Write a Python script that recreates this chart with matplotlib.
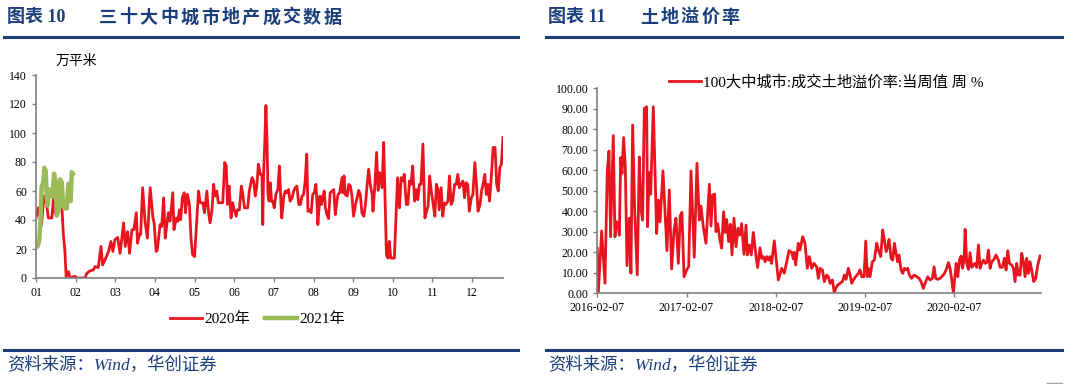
import matplotlib
matplotlib.use('Agg')
import matplotlib.pyplot as plt
import numpy as np

plt.rcParams['font.family'] = ['Liberation Serif', 'Noto Sans CJK SC']
plt.rcParams['axes.unicode_minus'] = False

# ---- left chart: 30 city floor area sold (万平米), x in months since 01-01
months = ['01', '02', '03', '04', '05', '06', '07', '08', '09', '10', '11', '12']

x_2020 = [0.00, 0.06, 0.14, 0.20, 0.27, 0.31, 0.40, 0.44, 0.48, 0.52, 0.61, 0.65, 0.69, 0.73, 0.76,
          0.82, 0.86, 0.98, 1.03, 1.24, 1.28, 1.36, 1.45, 1.49, 1.57, 1.64, 1.68, 1.74, 1.83, 1.89,
          1.94, 1.99, 2.06, 2.12, 2.21, 2.25, 2.31, 2.36, 2.42, 2.47, 2.53, 2.56, 2.61, 2.64, 2.69,
          2.75, 2.81, 2.88, 2.95, 2.98, 3.03, 3.06, 3.13, 3.17, 3.22, 3.26, 3.30, 3.34, 3.38, 3.45,
          3.48, 3.54, 3.58, 3.62, 3.65, 3.69, 3.74, 3.77, 3.82, 3.87, 3.91, 3.95, 4.00, 4.06, 4.10,
          4.14, 4.21, 4.25, 4.31, 4.35, 4.39, 4.44, 4.48, 4.52, 4.56, 4.60, 4.66, 4.71, 4.76, 4.80,
          4.83, 4.87, 4.92, 4.96, 5.00, 5.05, 5.08, 5.13, 5.18, 5.21, 5.26, 5.29, 5.34, 5.38, 5.45,
          5.49, 5.53, 5.57, 5.61, 5.66, 5.70, 5.72, 5.74, 5.77, 5.80, 5.83, 5.85, 5.88, 5.91, 5.94,
          5.97, 6.01, 6.05, 6.10, 6.14, 6.18, 6.20, 6.25, 6.29, 6.33, 6.37, 6.41, 6.46, 6.50, 6.54,
          6.58, 6.63, 6.67, 6.71, 6.75, 6.79, 6.83, 6.86, 6.90, 6.94, 6.98, 7.02, 7.06, 7.09, 7.11,
          7.16, 7.20, 7.23, 7.27, 7.30, 7.34, 7.38, 7.42, 7.47, 7.51, 7.55, 7.59, 7.62, 7.66, 7.72,
          7.74, 7.77, 7.80, 7.85, 7.89, 7.93, 7.97, 8.01, 8.06, 8.10, 8.14, 8.18, 8.22, 8.27, 8.31,
          8.35, 8.39, 8.43, 8.48, 8.50, 8.55, 8.59, 8.63, 8.66, 8.70, 8.73, 8.77, 8.81, 8.84, 8.88,
          8.91, 8.95, 9.00, 9.04, 9.08, 9.12, 9.17, 9.21, 9.25, 9.29, 9.34, 9.38, 9.42, 9.46, 9.50,
          9.55, 9.59, 9.63, 9.67, 9.71, 9.76, 9.81, 9.85, 9.89, 9.93, 9.97, 10.02, 10.06, 10.10, 10.14,
          10.17, 10.22, 10.26, 10.30, 10.34, 10.39, 10.43, 10.47, 10.51, 10.56, 10.60, 10.64, 10.68, 10.72, 10.77,
          10.81, 10.85, 10.89, 10.93, 10.98, 11.02, 11.07, 11.11, 11.15, 11.20, 11.24, 11.27, 11.32, 11.36, 11.40,
          11.44, 11.49, 11.53, 11.58, 11.62, 11.66, 11.70, 11.74, 11.78]
y_2020 = [41.4, 48.4, 36.8, 56.5, 50.7, 41.4, 41.4, 55.3, 45, 47, 51.9, 50.7, 30, 18.3, 1,
          4.4, 0, 1.2, 0, 0, 3.2, 4.9, 5.6, 7.9, 7.2, 21.8, 9, 12.5, 18.3, 25.2,
          18.3, 26.4, 28, 17, 38, 21.8, 32, 17, 33.3, 33.3, 45, 24, 30.3, 30, 62.3,
          39.1, 27.5, 62.3, 41.4, 38, 18.3, 19.4, 36.8, 35.6, 55.3, 27.5, 36.8, 45, 39.1, 58.8,
          33.3, 41.4, 39.1, 47, 40.3, 55.3, 58.8, 45, 57.6, 50.7, 27.5, 16, 14.8, 41.4, 60,
          51.9, 51.9, 45, 60, 46, 38, 47, 64.6, 56.5, 60, 51.9, 51.9, 51.9, 79.6, 77.3,
          50.7, 63.4, 41.4, 51.9, 47, 42.6, 47, 47, 63.4, 58.8, 48.4, 48.4, 48.4, 60, 69.2,
          66.9, 56.5, 63.4, 78.5, 71.5, 71.5, 36.8, 71.5, 92.4, 119, 92, 58, 53, 65.7, 53,
          53, 48.4, 57.6, 61, 77.3, 50.7, 41.4, 56.5, 60, 58.8, 61, 53, 55.3, 60, 62.3,
          63.4, 50.7, 50.7, 56.5, 57.6, 66.9, 85.4, 46, 47, 45, 57.6, 58.8, 64.6, 50.7, 36.8,
          56.5, 50.7, 55.3, 60, 48.4, 43.75, 41, 58.8, 60, 61, 43.75, 53, 57.6, 58.8, 69.2,
          58.8, 70.4, 57.6, 56.5, 64.6, 63.4, 56.5, 42.6, 50.7, 55.3, 60.4, 57.6, 45, 42.6, 50.7,
          63.4, 75, 64.6, 57.6, 46, 64.6, 86.6, 60.4, 72.7, 71.5, 62.3, 93.5, 49.5, 16, 13.7,
          25.2, 13.7, 13.7, 13.7, 41.4, 69.2, 48.4, 69.2, 66.9, 71.5, 50.7, 50.7, 66.9, 64.6, 77.3,
          53, 61, 54, 64.6, 64.6, 92.4, 41.4, 46, 49.5, 70.4, 60, 50.7, 42.6, 64.6, 61,
          47, 62.3, 42.6, 51.7, 50.7, 53, 70.4, 50.7, 53, 64.6, 64.6, 71.5, 62.3, 64.6, 66.9,
          55.3, 65.7, 64.6, 46, 55.3, 57.6, 79.6, 64.6, 46, 50.7, 60.4, 63.4, 71.5, 57.6, 64.6,
          53, 71.5, 90, 90, 64.6, 60, 76.2, 78.5, 97]

x_2021 = [0.000, 0.043, 0.083, 0.119, 0.144, 0.184, 0.210, 0.245, 0.270, 0.295, 0.328, 0.371, 0.412,
          0.455, 0.497, 0.523, 0.563, 0.606, 0.649, 0.689, 0.732, 0.775, 0.816, 0.841, 0.876, 0.901, 0.927]
y_2021 = [21, 22, 26, 43, 63, 66, 76, 74, 56, 50, 61, 60, 56,
          72, 65, 43, 46, 68, 66, 49, 48, 48, 65, 64, 53, 73, 72]

# ---- right chart: land premium rate, x in years since 2016-02-07
date_labels = ['2016-02-07', '2017-02-07', '2018-02-07', '2019-02-07', '2020-02-07']
x_prem = [0.000, 0.011, 0.049, 0.086, 0.112, 0.131, 0.149, 0.179, 0.198, 0.217, 0.235, 0.247, 0.262, 0.277,
          0.295, 0.314, 0.333, 0.359, 0.377, 0.396, 0.419, 0.448, 0.471, 0.490, 0.508, 0.527, 0.553, 0.564,
          0.579, 0.598, 0.628, 0.665, 0.684, 0.703, 0.736, 0.781, 0.807, 0.833, 0.860, 0.882, 0.908, 0.930,
          0.949, 0.972, 1.001, 1.024, 1.050, 1.087, 1.117, 1.143, 1.162, 1.188, 1.218, 1.256, 1.274, 1.293,
          1.315, 1.330, 1.349, 1.375, 1.394, 1.416, 1.435, 1.450, 1.472, 1.491, 1.510, 1.532, 1.555, 1.577,
          1.596, 1.618, 1.644, 1.667, 1.682, 1.704, 1.726, 1.749, 1.779, 1.797, 1.824, 1.842, 1.861, 1.880,
          1.898, 1.917, 1.936, 1.954, 1.984, 2.029, 2.067, 2.096, 2.123, 2.149, 2.179, 2.197, 2.209, 2.223,
          2.253, 2.272, 2.302, 2.328, 2.354, 2.377, 2.403, 2.429,
          2.459, 2.478, 2.497, 2.523, 2.545, 2.571, 2.590, 2.609, 2.635, 2.657, 2.672, 2.695, 2.721, 2.747,
          2.769, 2.788, 2.814, 2.833, 2.852, 2.870, 2.896, 2.926, 2.945, 2.964, 2.990, 3.009, 3.027, 3.038,
          3.057, 3.083, 3.106, 3.132, 3.151, 3.177, 3.199, 3.218, 3.237, 3.255, 3.270, 3.293, 3.311, 3.330,
          3.349, 3.367, 3.382, 3.405, 3.424, 3.442, 3.461, 3.480, 3.498, 3.524, 3.551, 3.581, 3.607, 3.629,
          3.655, 3.681, 3.704, 3.730, 3.756, 3.775, 3.793, 3.816, 3.842, 3.861, 3.891, 3.917, 3.936, 3.954,
          3.973, 3.992, 4.003, 4.022, 4.041, 4.059, 4.078, 4.093, 4.111, 4.123, 4.141, 4.160, 4.178, 4.197,
          4.216, 4.234, 4.253, 4.272, 4.291, 4.309, 4.328, 4.347, 4.365, 4.384, 4.403, 4.421, 4.440, 4.470,
          4.496, 4.515, 4.541, 4.563, 4.582, 4.601, 4.619, 4.645, 4.664, 4.683, 4.701, 4.720, 4.739, 4.757,
          4.776, 4.795, 4.813, 4.832, 4.851, 4.869, 4.892, 4.914, 4.937, 4.963]
y_prem = [22, 0, 30.4, 4.9, 60, 69.4, 27.6, 76.9, 27.6, 34.9, 33, 28.3, 66.2, 58.5,
          76, 61.7, 13.5, 36.6, 9.8, 82.1, 39.8, 9, 66.5, 40.6, 35.7, 90.2, 91, 32.5,
          59, 48.3, 91, 29.2, 45.5, 34.9, 59.7, 20.8, 50.4, 11.9, 30.9, 36.6, 14.6, 37.9,
          39.5, 8.1, 11.4, 13, 59.7, 17.6, 63.4, 35.7, 42.6, 32.5, 24.4, 53.2, 32.8, 47.9,
          48.4, 30.1, 34, 26, 22, 39.8, 29.7, 36, 25.2, 33.7, 18.7, 36.6, 22.7, 31.7,
          28.4, 34, 19, 33.3, 18.7, 23.6, 18.7, 29.7, 17.9, 12.6, 22.2, 17, 17.9, 15.4,
          17.9, 16.2, 17.9, 14.6, 25.6, 6.5, 12.2, 9.8, 15.4, 20.8, 20, 16.8, 20, 13.8,
          24.4, 21.1, 27.6, 24.4, 12.2, 17.9, 12.2, 14.6,
          12.9, 7.3, 12.2, 11.4, 5.7, 8.9, 8.1, 4.9, 6.5, 0, 2.4, 4.0, 4.9, 5.7,
          8.9, 6.8, 12.2, 8.9, 4.9, 6.5, 8.1, 9.7, 11.4, 8.1, 8.1, 25.5, 8.1, 12.2,
          8.1, 15.4, 16.2, 24.4, 21.1, 17.9, 30.9, 26, 20.3, 22.7, 26.3, 17.1, 16.2, 24.4,
          19.5, 15.4, 18.7, 11.4, 9.7, 12.2, 11.4, 12.2, 8.9, 7.3, 8.9, 8.1, 7.3, 5.7,
          2.4, 5.7, 8.1, 6.5, 7.3, 12.9, 7.3, 6.8, 7.3, 8.1, 9.7, 12.2, 15, 12.2,
          6.5, 0, 5.7, 14.6, 8.1, 16.2, 18.2, 12.2, 16.2, 31.2, 14.6, 11.7, 19.8, 12.7,
          13.8, 14.6, 12.7, 23.6, 12.2, 14.6, 16.2, 14.6, 15, 21.1, 12.2, 15.4, 16.2, 18.7,
          16.2, 12.7, 12.7, 17.1, 11.4, 20.8, 14.6, 13.8, 12.2, 5.7, 14.6, 8.9, 8.9, 19.5,
          15.4, 8.1, 17.1, 9.7, 15.4, 11.4, 5.7, 7.3, 13.8, 18.2]

red = '#E8141E'
green = '#9BBB59'
navy = '#1B3E7C'
gray = '#808080'
W, H = 1075, 384

fig = plt.figure(figsize=(W / 100, H / 100), dpi=100)


def px(x, y):
    return x / W, 1 - y / H


def style_axes(ax):
    for s in ['top', 'right']:
        ax.spines[s].set_visible(False)
    for s in ['left', 'bottom']:
        ax.spines[s].set_color(gray)
        ax.spines[s].set_linewidth(1.2)
    ax.tick_params(colors=gray, length=3, width=1, labelcolor='black')


# left axes
ax1 = fig.add_axes([36 / W, 1 - 278 / H, (503 - 36) / W, (278 - 75) / H])
style_axes(ax1)
ax1.plot(x_2020, y_2020, color=red, lw=2.0, label='2020年')
ax1.plot(x_2021, y_2021, color=green, lw=3.2, label='2021年')
ax1.set_xlim(0, 11.78)
ax1.set_ylim(0, 140)
ax1.set_yticks(np.arange(0, 141, 20))
ax1.set_xticks(range(len(months)))
ax1.set_xticklabels(months)
ax1.tick_params(axis='both', labelsize=8.5)
ax1.legend(loc='center left', bbox_to_anchor=((170 - 36) / 467, -(319 - 278) / 203), ncol=2,
           frameon=False, fontsize=11, handlelength=2.1, handletextpad=0.15, columnspacing=1.0,
           borderaxespad=0, borderpad=0)
fig.text(*px(56, 61), '万平米', fontsize=10, va='center', ha='left')

# right axes
ax2 = fig.add_axes([597.3 / W, 1 - 293.3 / H, (1040.7 - 597.3) / W, (293.3 - 88.3) / H])
style_axes(ax2)
ax2.plot(x_prem, y_prem, color=red, lw=2.0, label='100大中城市:成交土地溢价率:当周值 周 %')
ax2.set_xlim(0, 4.97)
ax2.set_ylim(0, 100)
ax2.set_yticks(np.arange(0, 101, 10))
ax2.set_yticklabels(['%.2f' % v for v in np.arange(0, 101, 10)])
ax2.set_xticks(range(len(date_labels)))
ax2.set_xticklabels(date_labels)
ax2.tick_params(axis='both', labelsize=8.5)
ax2.legend(loc='center left', bbox_to_anchor=((669 - 597.3) / (1040.7 - 597.3), (293.3 - 82) / 205),
           frameon=False, fontsize=11, handlelength=2.1, handletextpad=0.15, borderaxespad=0, borderpad=0)

# titles, rules and source notes
for x0, num, title in [(7, '图表 10', '三十大中城市地产成交数据'), (548, '图表 11', '土地溢价率')]:
    fig.text(*px(x0, 18), num, fontsize=13, fontweight='bold', color=navy, va='center')
    for i, ch in enumerate(title):
        fig.text(*px(x0 + 92 + i * 20.4, 18), ch, fontsize=13, fontweight='bold', color=navy, va='center')
    fig.text(*px(x0, 366), '资料来源：Wind，华创证券', fontsize=12.5, style='italic', color=navy, va='center')

for xa, xb in [(4, 518), (546, 1062)]:
    for yy in [36.5, 350]:
        fig.add_artist(plt.Line2D([xa / W, xb / W], [1 - yy / H] * 2, color=navy, lw=2.2))
fig.add_artist(plt.Line2D([1047 / W, 1062 / W], [1 - 383 / H] * 2, color='#A0A0A0', lw=1))

fig.savefig('out.png', dpi=100)
